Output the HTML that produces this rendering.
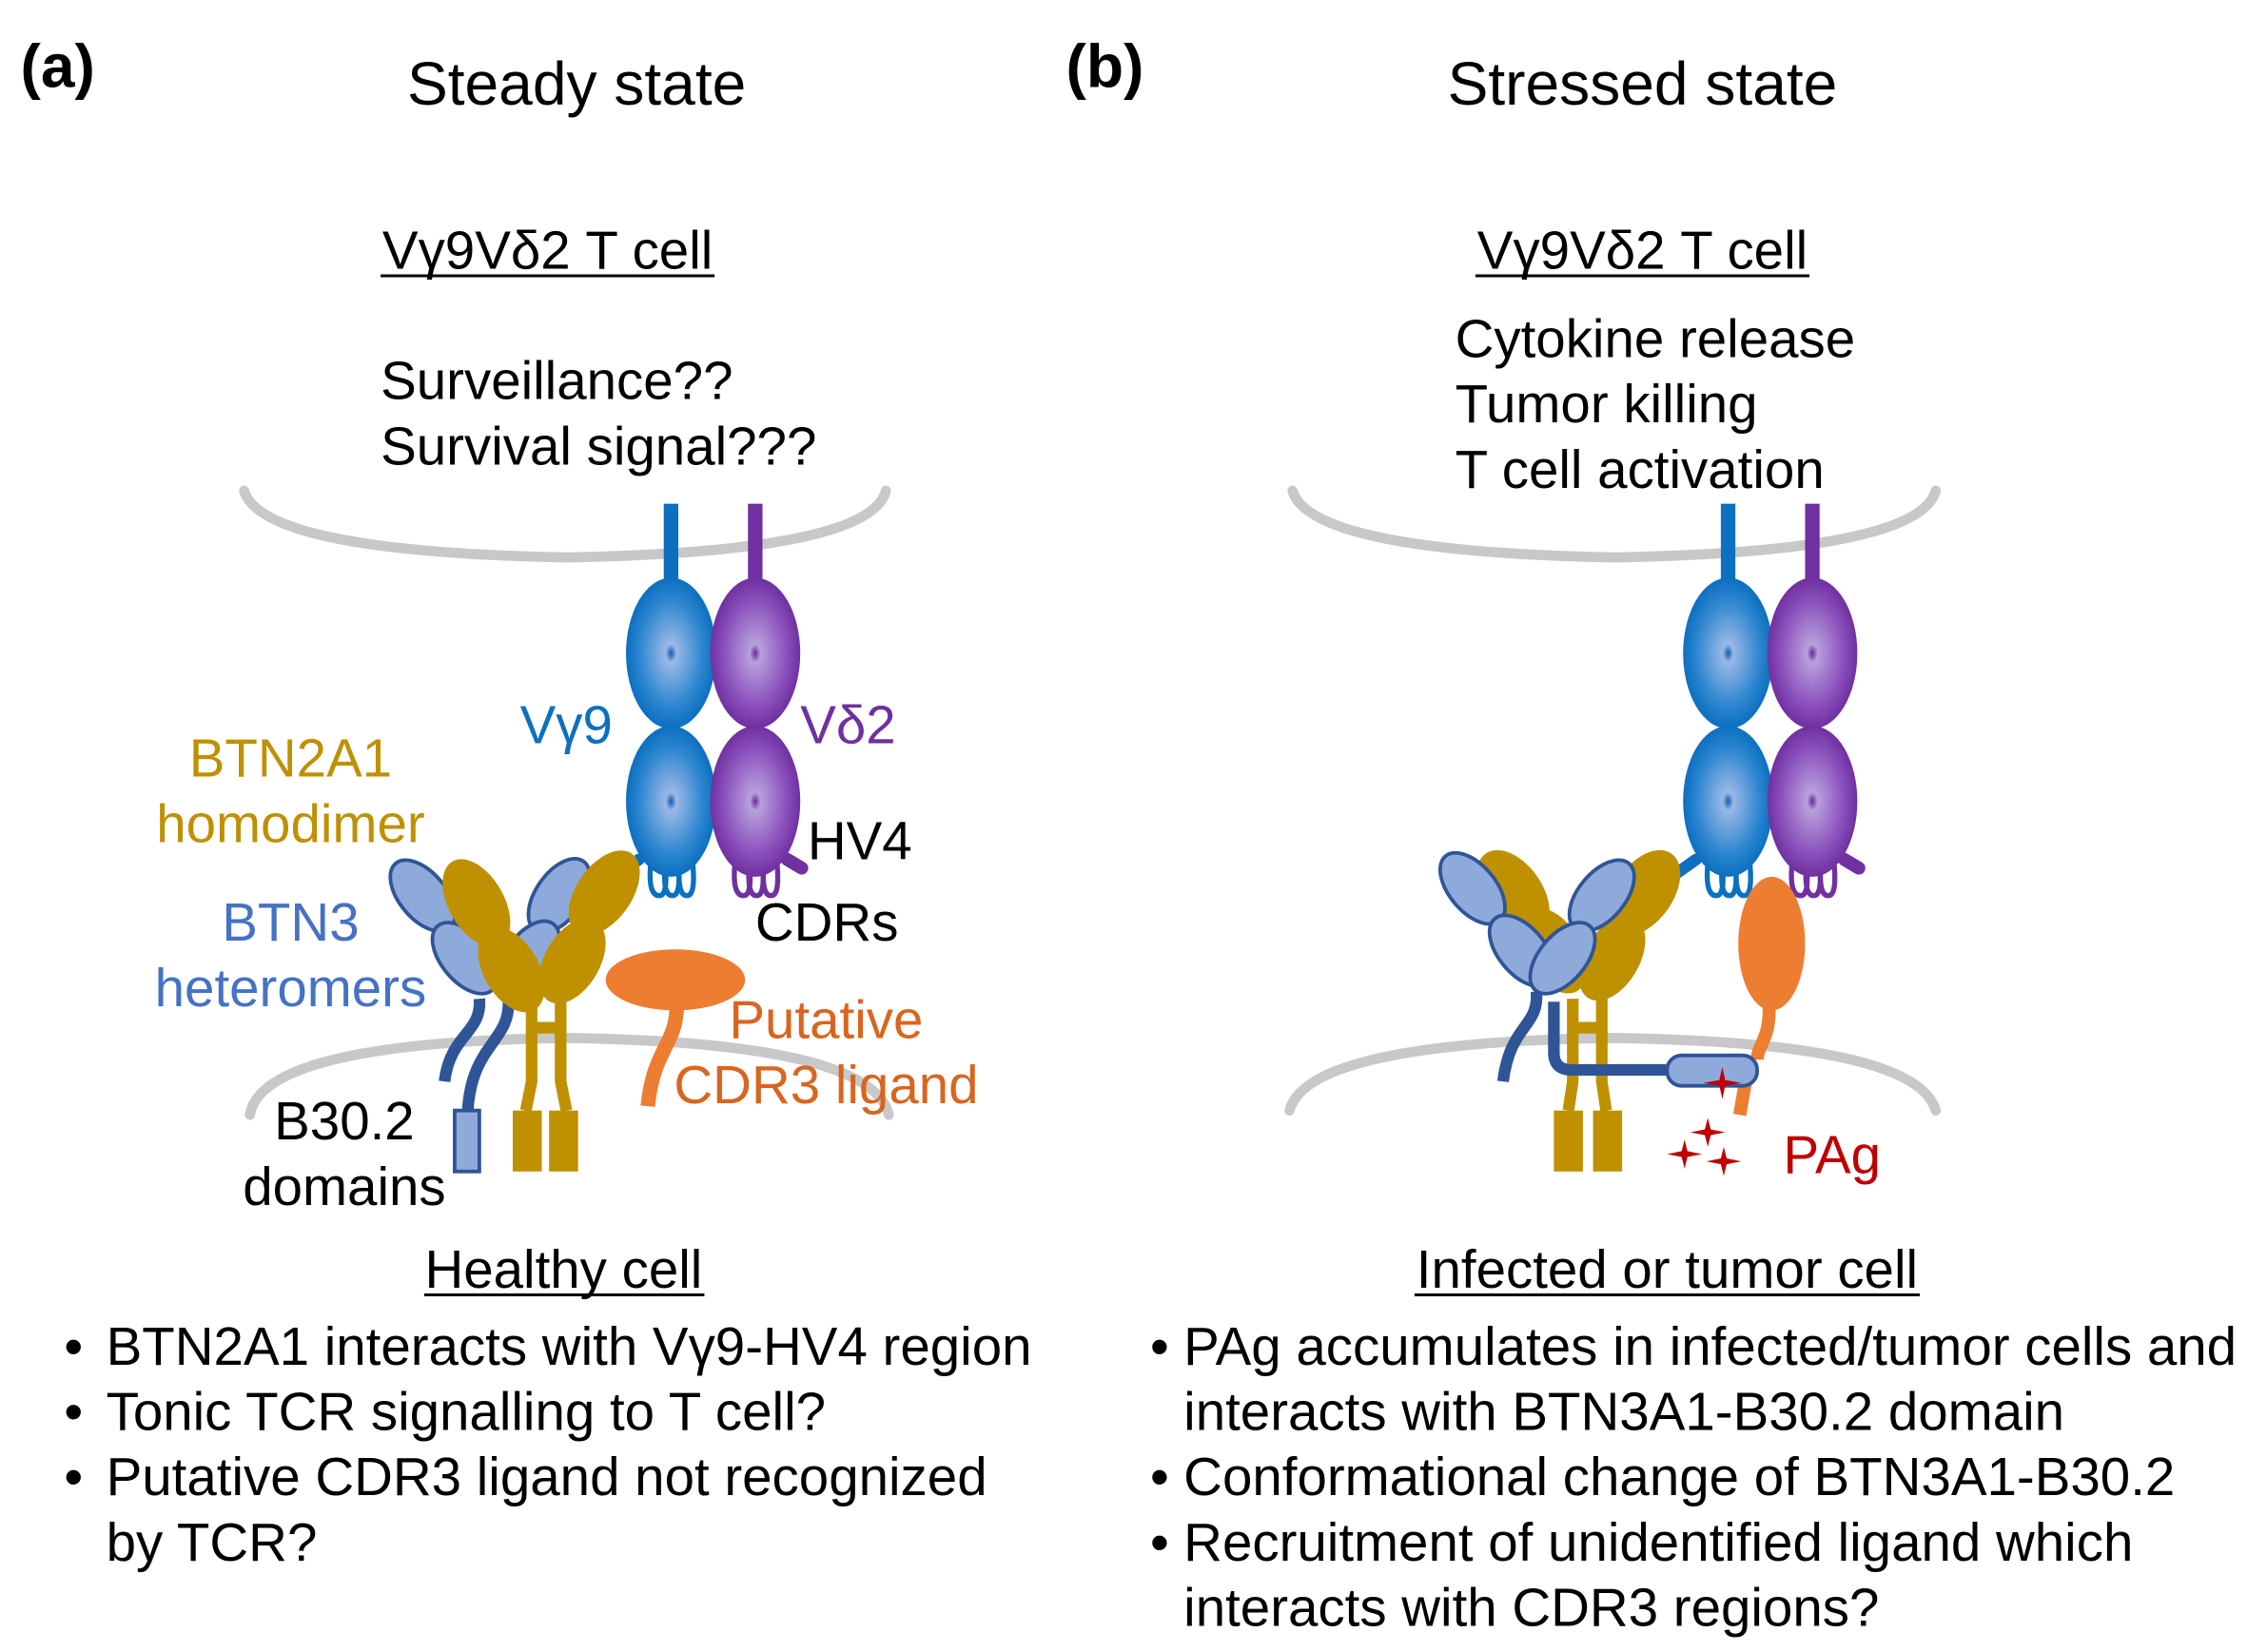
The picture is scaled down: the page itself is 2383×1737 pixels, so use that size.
<!DOCTYPE html>
<html><head><meta charset="utf-8"><style>
html,body{margin:0;padding:0;background:#fff}
svg{display:block}
text{font-family:"Liberation Sans",sans-serif}
</style></head><body>
<svg width="2383" height="1737" viewBox="0 0 1561 1138" xmlns="http://www.w3.org/2000/svg">
<defs>
<radialGradient id="gb" cx="50%" cy="50%" r="50%"><stop offset="0" stop-color="#0a5fb0"/><stop offset="0.12" stop-color="#9ab8e6"/><stop offset="0.7" stop-color="#2d86d0"/><stop offset="1" stop-color="#0b6fc0"/></radialGradient>
<radialGradient id="gp" cx="50%" cy="50%" r="50%"><stop offset="0" stop-color="#6a2a9a"/><stop offset="0.12" stop-color="#b8a0dc"/><stop offset="0.7" stop-color="#8a50bc"/><stop offset="1" stop-color="#7030a0"/></radialGradient>
<g id="tcr">
 <rect x="-5" y="0" width="10" height="60" fill="#0b70c0"/>
 <rect x="53" y="0" width="10" height="60" fill="#7030a0"/>
 <path d="M-22,245 l-14,10" stroke="#0b70c0" stroke-width="8" stroke-linecap="round"/>
 <path d="M80,245 l10,6" stroke="#7030a0" stroke-width="9" stroke-linecap="round"/>
 <g fill="none" stroke="#0b70c0" stroke-width="3.5"><path d="M-14,248 q-2,22 6,22 q6,0 4,-22"/><path d="M-4,248 q-2,22 5,22 q6,0 4,-22"/><path d="M6,248 q-2,22 5,22 q6,0 4,-22"/></g>
 <g fill="none" stroke="#7030a0" stroke-width="3.5"><path d="M44,248 q-2,22 6,22 q6,0 4,-22"/><path d="M54,248 q-2,22 5,22 q6,0 4,-22"/><path d="M64,248 q-2,22 5,22 q6,0 4,-22"/></g>
 <ellipse cx="0" cy="103" rx="31" ry="52" fill="url(#gb)"/>
 <ellipse cx="0" cy="205" rx="31" ry="52" fill="url(#gb)"/>
 <ellipse cx="58" cy="103" rx="31" ry="52" fill="url(#gp)"/>
 <ellipse cx="58" cy="205" rx="31" ry="52" fill="url(#gp)"/>
</g>
</defs>

<text x="14" y="60" font-size="42" font-weight="bold">(a)</text>
<text x="397" y="72" font-size="42" text-anchor="middle">Steady state</text>
<text x="734" y="60" font-size="42" font-weight="bold">(b)</text>
<text x="1131" y="72" font-size="42" text-anchor="middle">Stressed state</text>

<g font-size="37">
<text x="377" y="185" text-anchor="middle">Vγ9Vδ2 T cell</text>
<line x1="262" y1="190" x2="492" y2="190" stroke="#000" stroke-width="2"/>
<text x="1131" y="185" text-anchor="middle">Vγ9Vδ2 T cell</text>
<line x1="1016" y1="190" x2="1246" y2="190" stroke="#000" stroke-width="2"/>
<text x="262" y="275">Surveillance??</text>
<text x="262" y="320">Survival signal???</text>
<text x="1002" y="246">Cytokine release</text>
<text x="1002" y="291">Tumor killing</text>
<text x="1002" y="336">T cell activation</text>
</g>

<g fill="none" stroke="#c8c8c8" stroke-width="7" stroke-linecap="round">
<path d="M168,338 Q180,380 390,384 Q600,380 610,338"/>
<path d="M172,768 Q180,718 390,715 Q600,718 612,768"/>
<path d="M890,338 Q902,380 1112,384 Q1322,380 1333,338"/>
<path d="M888,765 Q900,718 1110,715 Q1320,718 1333,765"/>
</g>

<use href="#tcr" x="462" y="347"/>
<g fill="#8eaadb" stroke="#2f5597" stroke-width="2.5">
<ellipse cx="385" cy="617" rx="16" ry="29" transform="rotate(35 385 617)"/>
<ellipse cx="364" cy="660" rx="16" ry="29" transform="rotate(35 364 660)"/>
</g>
<g fill="none" stroke="#2f5597" stroke-width="8">
<path d="M330,688 C332,712 310,712 306,745"/>
<path d="M350,688 C352,718 325,718 322,765"/>
</g>
<rect x="313" y="765" width="17" height="42" fill="#8eaadb" stroke="#2f5597" stroke-width="2.5"/>
<g fill="#8eaadb" stroke="#2f5597" stroke-width="2.5">
<ellipse cx="291" cy="617" rx="16" ry="29" transform="rotate(-40 291 617)"/>
<ellipse cx="320" cy="660" rx="16" ry="29" transform="rotate(-40 320 660)"/>
</g>
<g fill="#bf9000">
<ellipse cx="328" cy="622" rx="19" ry="33" transform="rotate(-30 328 622)"/>
<ellipse cx="352" cy="668" rx="19" ry="32" transform="rotate(-30 352 668)"/>
<ellipse cx="416" cy="615" rx="19" ry="33" transform="rotate(35 416 615)"/>
<ellipse cx="394" cy="662" rx="19" ry="32" transform="rotate(30 394 662)"/>
</g>
<g fill="none" stroke="#bf9000" stroke-width="8">
<path d="M366,690 V745 L362,765"/><path d="M386,690 V745 L390,765"/><path d="M366,708 H386"/>
</g>
<rect x="353" y="765" width="20" height="42" fill="#bf9000"/>
<rect x="378" y="765" width="20" height="42" fill="#bf9000"/>
<ellipse cx="465" cy="675" rx="48" ry="21" fill="#ed7d31"/>
<path d="M466,692 C466,720 450,722 446,762" fill="none" stroke="#ed7d31" stroke-width="10"/>

<use href="#tcr" x="1190" y="347"/>
<g fill="#bf9000">
<ellipse cx="1042" cy="615" rx="20" ry="33" transform="rotate(-35 1042 615)"/>
<ellipse cx="1070" cy="655" rx="19" ry="32" transform="rotate(-30 1070 655)"/>
<ellipse cx="1132" cy="615" rx="20" ry="33" transform="rotate(35 1132 615)"/>
<ellipse cx="1110" cy="660" rx="19" ry="32" transform="rotate(30 1110 660)"/>
</g>
<g fill="none" stroke="#bf9000" stroke-width="8">
<path d="M1083,688 V745 L1080,765"/><path d="M1103,688 V745 L1106,765"/><path d="M1083,708 H1103"/>
</g>
<rect x="1070" y="765" width="20" height="42" fill="#bf9000"/>
<rect x="1097" y="765" width="20" height="42" fill="#bf9000"/>
<path d="M1218,690 C1220,715 1210,720 1210,730 M1202,745 L1198,768" fill="none" stroke="#ed7d31" stroke-width="9"/>
<ellipse cx="1220" cy="650" rx="23" ry="46" fill="#ed7d31"/>
<g fill="none" stroke="#2f5597" stroke-width="8">
<path d="M1058,683 C1060,708 1040,705 1035,745"/>
<path d="M1070,690 V725 Q1070,737 1082,737 H1150"/>
</g>
<rect x="1148" y="727" width="62" height="21" rx="10" fill="#8eaadb" stroke="#2f5597" stroke-width="2.5"/>
<g fill="#8eaadb" stroke="#2f5597" stroke-width="2.5">
<ellipse cx="1014" cy="612" rx="16" ry="29" transform="rotate(-40 1014 612)"/>
<ellipse cx="1048" cy="655" rx="16" ry="29" transform="rotate(-40 1048 655)"/>
<ellipse cx="1103" cy="617" rx="16" ry="29" transform="rotate(40 1103 617)"/>
<ellipse cx="1076" cy="660" rx="16" ry="29" transform="rotate(40 1076 660)"/>
</g>
<g fill="#c00000">
<path d="M1186,735 l2,9 l11,2 l-11,2 l-2,9 l-2,-9 l-11,-2 l11,-2z"/>
<path d="M1176,770 l2,8 l10,2 l-10,2 l-2,8 l-2,-8 l-10,-2 l10,-2z"/>
<path d="M1160,785 l2,8 l10,2 l-10,2 l-2,8 l-2,-8 l-10,-2 l10,-2z"/>
<path d="M1187,790 l2,8 l10,2 l-10,2 l-2,8 l-2,-8 l-10,-2 l10,-2z"/>
</g>
<text x="1228" y="808" font-size="37" fill="#c00000">PAg</text>

<g font-size="37">
<text x="358" y="512" fill="#0b70c0">Vγ9</text>
<text x="551" y="512" fill="#7030a0">Vδ2</text>
<text x="200" y="535" fill="#bf9000" text-anchor="middle">BTN2A1</text>
<text x="200" y="580" fill="#bf9000" text-anchor="middle">homodimer</text>
<text x="556" y="592">HV4</text>
<text x="200" y="648" fill="#4472c4" text-anchor="middle">BTN3</text>
<text x="200" y="693" fill="#4472c4" text-anchor="middle">heteromers</text>
<text x="520" y="648">CDRs</text>
<text x="502" y="715" fill="#d9651f">Putative</text>
<text x="464" y="760" fill="#d9651f">CDR3 ligand</text>
<text x="237" y="785" text-anchor="middle">B30.2</text>
<text x="237" y="830" text-anchor="middle">domains</text>

<text x="388" y="887" text-anchor="middle">Healthy cell</text>
<line x1="292" y1="892" x2="485" y2="892" stroke="#000" stroke-width="2"/>
<text x="1148" y="887" text-anchor="middle">Infected or tumor cell</text>
<line x1="974" y1="892" x2="1322" y2="892" stroke="#000" stroke-width="2"/>

<text x="44" y="940">•</text><text x="73" y="940">BTN2A1 interacts with Vγ9-HV4 region</text>
<text x="44" y="985">•</text><text x="73" y="985">Tonic TCR signalling to T cell?</text>
<text x="44" y="1030">•</text><text x="73" y="1030">Putative CDR3 ligand not recognized</text>
<text x="73" y="1075">by TCR?</text>

<text x="792" y="940">•</text><text x="815" y="940">PAg accumulates in infected/tumor cells and</text>
<text x="815" y="985">interacts with BTN3A1-B30.2 domain</text>
<text x="792" y="1030">•</text><text x="815" y="1030">Conformational change of BTN3A1-B30.2</text>
<text x="792" y="1075">•</text><text x="815" y="1075">Recruitment of unidentified ligand which</text>
<text x="815" y="1120">interacts with CDR3 regions?</text>
</g>
</svg>
</body></html>
